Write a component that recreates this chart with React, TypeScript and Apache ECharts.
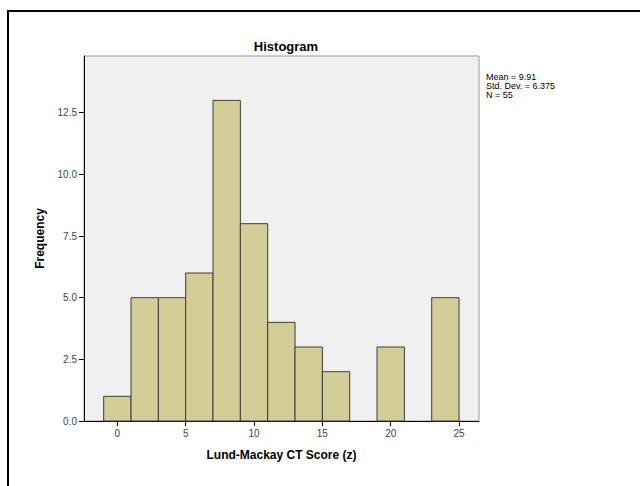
import React, { useEffect, useRef } from "react";
import * as echarts from "echarts";

// Histogram bins (bin width 2), lower edges and counts
const binStarts = [-1, 1, 3, 5, 7, 9, 11, 13, 15, 17, 19, 21, 23];
const binWidth = 2;
const counts = [1, 5, 5, 6, 13, 8, 4, 3, 2, 0, 3, 0, 5];
const xTicks = [0, 5, 10, 15, 20, 25];
const yTicks = [0, 2.5, 5, 7.5, 10, 12.5];
const statsLines = ["Mean = 9.91", "Std. Dev. = 6.375", "N = 55"];

export default function App() {
  const ref = useRef<HTMLDivElement>(null);
  useEffect(() => {
    if (!ref.current) return;
    const chart = echarts.init(ref.current, undefined, { renderer: "svg" });
    const data = binStarts
      .map((s, i) => [s, s + binWidth, counts[i]])
      .filter((d) => d[2] > 0);
    const font = "Liberation Sans, Arial, sans-serif";
    chart.setOption({
      animation: false,
      backgroundColor: "#ffffff",
      title: {
        text: "Histogram",
        left: 281,
        top: 35,
        textAlign: "center",
        textStyle: { fontFamily: font, fontSize: 13, fontWeight: "bold", color: "#000" },
      },
      grid: {
        left: 84,
        top: 56,
        right: 161,
        bottom: 65,
        show: true,
        backgroundColor: "#f0f0f0",
        borderColor: "#999999",
        borderWidth: 1,
      },
      xAxis: {
        type: "value",
        min: -2.44,
        max: 26.46,
        name: "Lund-Mackay CT Score (z)",
        nameLocation: "middle",
        nameGap: 28,
        nameTextStyle: { fontFamily: font, fontSize: 12, fontWeight: "bold", color: "#000" },
        splitLine: { show: false },
        axisLine: { show: true, onZero: false, lineStyle: { color: "#000", width: 1 } },
        axisTick: { show: true, length: 5, customValues: xTicks, lineStyle: { color: "#000" } },
        axisLabel: {
          customValues: xTicks,
          fontFamily: font,
          fontSize: 10,
          color: "#444",
          margin: 7,
        },
      },
      yAxis: {
        type: "value",
        min: 0,
        max: 14.8,
        name: "Frequency",
        nameLocation: "middle",
        nameGap: 38,
        nameTextStyle: { fontFamily: font, fontSize: 12, fontWeight: "bold", color: "#000" },
        splitLine: { show: false },
        axisLine: { show: true, onZero: false, lineStyle: { color: "#000", width: 1 } },
        axisTick: { show: true, length: 5, customValues: yTicks, lineStyle: { color: "#000" } },
        axisLabel: {
          customValues: yTicks,
          formatter: (v: number) => v.toFixed(1),
          fontFamily: font,
          fontSize: 10,
          color: "#444",
          margin: 7,
        },
      },
      graphic: [
        {
          type: "rect",
          shape: { x: 8, y: 11, width: 700, height: 600 },
          style: { fill: "none", stroke: "#000", lineWidth: 2 },
          silent: true,
        },
        ...statsLines.map((line, i) => ({
          type: "text",
          x: 486,
          y: 72 + i * 9,
          style: {
            text: line,
            fontFamily: font,
            fontSize: 9,
            fill: "#000",
          },
        })),
      ],
      series: [
        {
          type: "custom",
          renderItem: (params: any, api: any) => {
            const p0 = api.coord([api.value(0), api.value(2)]);
            const p1 = api.coord([api.value(1), 0]);
            return {
              type: "rect",
              shape: { x: p0[0], y: p0[1], width: p1[0] - p0[0], height: p1[1] - p0[1] },
              style: { fill: "#d3ce98", stroke: "#3c3c3c", lineWidth: 1 },
            };
          },
          encode: { x: [0, 1], y: 2 },
          data,
        },
      ],
    });
    return () => chart.dispose();
  }, []);
  return (
    <div
      ref={ref}
      style={{ position: "fixed", left: 0, top: 0, width: 640, height: 486 }}
    />
  );
}
